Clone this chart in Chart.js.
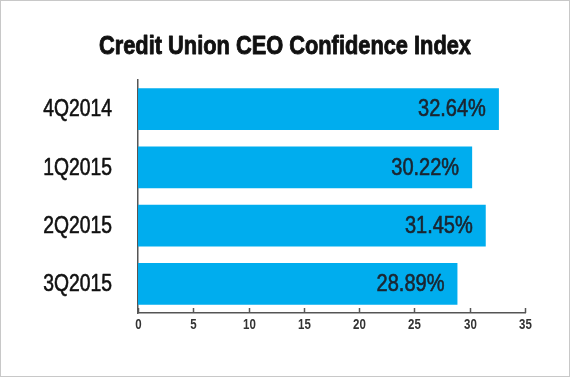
<!DOCTYPE html>
<html>
<head>
<meta charset="utf-8">
<script src="https://cdn.jsdelivr.net/npm/chart.js@4/dist/chart.umd.min.js"></script>
<style>
html,body{margin:0;padding:0;background:#fff;}
#wrap{position:absolute;left:0;top:0;width:568px;height:375px;border:1px solid #c8c8c8;}
</style>
</head>
<body>
<div id="wrap"><canvas id="c" width="568" height="375"></canvas></div>
<script>
const categories = ['4Q2014', '1Q2015', '2Q2015', '3Q2015'];
const confidence = [32.64, 30.22, 31.45, 28.89];
const xTicks = [0, 5, 10, 15, 20, 25, 30, 35];
const titleText = 'Credit Union CEO Confidence Index';

const FONT = "'Liberation Sans', Arial, sans-serif";

function narrowText(ctx, text, x, y, font, sx, align, color, weight) {
  ctx.save();
  ctx.font = font;
  ctx.fillStyle = color;
  ctx.strokeStyle = color;
  ctx.textBaseline = 'middle';
  ctx.textAlign = align;
  ctx.translate(x, y);
  ctx.scale(sx, 1);
  ctx.fillText(text, 0, 0);
  if (weight) {
    ctx.lineWidth = weight;
    ctx.lineJoin = 'round';
    ctx.strokeText(text, 0, 0);
  }
  ctx.restore();
}

const decor = {
  id: 'decor',
  afterDatasetsDraw(chart) {
    const ctx = chart.ctx;
    const xs = chart.scales.x;
    const ys = chart.scales.y;
    const ca = chart.chartArea;
    ctx.save();
    // title
    ctx.font = 'bold 26px ' + FONT;
    const tw = ctx.measureText(titleText).width;
    narrowText(ctx, titleText, 284, 46, 'bold 26px ' + FONT, 372 / tw, 'center', '#111', 0.9);
    // x ticks (inward) and labels
    ctx.strokeStyle = '#555';
    ctx.lineWidth = 1.5;
    xTicks.forEach(v => {
      const px = Math.round(xs.getPixelForValue(v)) + 0.5;
      ctx.beginPath();
      ctx.moveTo(px, ca.bottom);
      ctx.lineTo(px, ca.bottom - 5);
      ctx.stroke();
      narrowText(ctx, String(v), px, ca.bottom + 12, 'bold 14px ' + FONT, 0.82, 'center', '#333', 0);
    });
    // category labels
    categories.forEach((c, i) => {
      narrowText(ctx, c, ca.left - 26, ys.getPixelForValue(i) + 1, '23px ' + FONT, 0.84, 'right', '#111', 0.6);
    });
    // value labels
    const meta = chart.getDatasetMeta(0);
    meta.data.forEach((bar, i) => {
      narrowText(ctx, confidence[i].toFixed(2) + '%', bar.x - 13, bar.y + 1, '23px ' + FONT, 0.87, 'right', '#1b2530', 0.6);
    });
    ctx.restore();
  }
};

new Chart(document.getElementById('c'), {
  type: 'bar',
  data: {
    labels: categories,
    datasets: [{
      data: confidence,
      backgroundColor: '#00adee',
      borderWidth: 0,
      barPercentage: 0.72,
      categoryPercentage: 1.0
    }]
  },
  options: {
    indexAxis: 'y',
    responsive: false,
    animation: false,
    layout: { padding: { left: 0, right: 44, top: 79, bottom: 0 } },
    plugins: {
      legend: { display: false },
      tooltip: { enabled: false },
      title: { display: false }
    },
    scales: {
      x: {
        min: 0, max: 35,
        afterBuildTicks(scale) { scale.ticks = xTicks.map(v => ({ value: v })); },
        afterFit(scale) { scale.height = 63; },
        grid: { display: false, drawTicks: false },
        border: { display: true, color: '#555', width: 1.5 },
        ticks: { display: false }
      },
      y: {
        afterFit(scale) { scale.width = 137; },
        grid: { display: false, drawTicks: false },
        border: { display: true, color: '#555', width: 1.5 },
        ticks: { display: false }
      }
    }
  },
  plugins: [decor]
});
</script>
</body>
</html>
